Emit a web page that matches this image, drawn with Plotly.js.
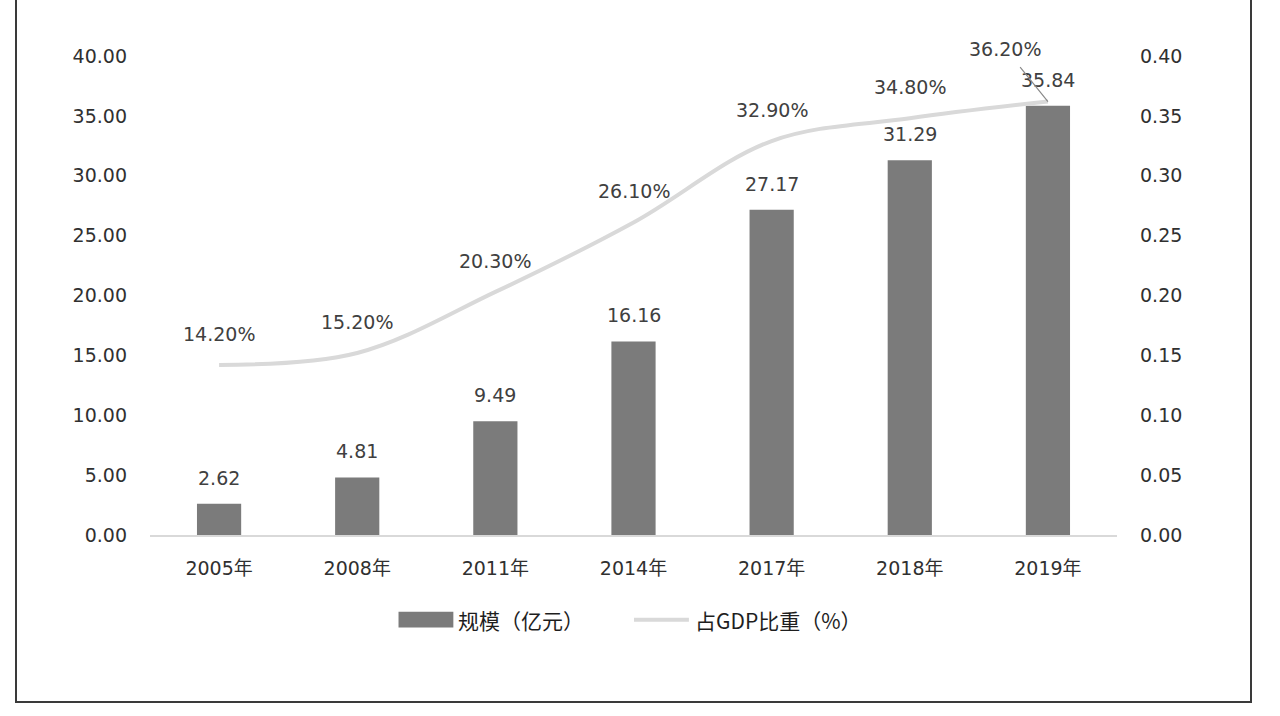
<!DOCTYPE html>
<html>
<head>
<meta charset="utf-8">
<script src="https://cdn.plot.ly/plotly-3.0.1.min.js"></script>
<style>
html,body{margin:0;padding:0;background:#fff;}
#frame{position:absolute;left:15px;top:-2px;width:1237px;height:705px;border:2px solid #3a3a3a;box-sizing:border-box;background:#fff;}
#chart{position:absolute;left:0;top:0;width:1233px;height:701px;}
</style>
</head>
<body>
<div id="frame"><div id="chart"></div></div>
<script>
const categories = ["2005年","2008年","2011年","2014年","2017年","2018年","2019年"];
const scaleValues = [2.62, 4.81, 9.49, 16.16, 27.17, 31.29, 35.84];
const gdpShare = [0.142, 0.152, 0.203, 0.261, 0.329, 0.348, 0.362];
const gdpLabels = ["14.20%","15.20%","20.30%","26.10%","32.90%","34.80%","36.20%"];
const leftTicks = [0,5,10,15,20,25,30,35,40];
const rightTicks = [0,0.05,0.10,0.15,0.20,0.25,0.30,0.35,0.40];
const seriesNames = ["规模（亿元）", "占GDP比重（%）"];

const FONT = '"DejaVu Sans", "Noto Sans CJK SC", sans-serif';
const CJK = '"Noto Sans CJK SC", "DejaVu Sans", sans-serif';
const TXT = '#404040';
const BAR = '#7b7b7b';
const LINE = '#d9d9d9';

const bars = {
  type: 'bar', name: seriesNames[0], x: categories, y: scaleValues,
  marker: {color: BAR}, yaxis: 'y', showlegend: false
};
const line = {
  type: 'scatter', mode: 'lines', name: seriesNames[1], x: categories, y: gdpShare,
  yaxis: 'y2', line: {color: LINE, width: 4, shape: 'spline', smoothing: 1}, showlegend: false
};

const annotations = [];
categories.forEach((c, i) => {
  annotations.push({x: c, y: scaleValues[i], xref: 'x', yref: 'y', text: scaleValues[i].toFixed(2),
    showarrow: false, yanchor: 'middle', yshift: 26, font: {family: FONT, size: 19, color: TXT}});
  if (i < categories.length - 1) {
    annotations.push({x: c, y: gdpShare[i], xref: 'x', yref: 'y2', text: gdpLabels[i],
      showarrow: false, yanchor: 'middle', yshift: 31, font: {family: FONT, size: 19, color: TXT}});
  } else {
    annotations.push({x: c, y: gdpShare[i], xref: 'x', yref: 'y2', text: gdpLabels[i],
      showarrow: true, arrowhead: 0, arrowwidth: 1.2, arrowcolor: '#8a8a8a', ax: -43, ay: -53,
      standoff: 0, startstandoff: 8, font: {family: FONT, size: 19, color: TXT}});
  }
});

// custom legend (wide symbols like the reference)
annotations.push({xref: 'paper', yref: 'paper', x: 0.3168, y: -0.1767, xanchor: 'left', yanchor: 'middle',
  text: seriesNames[0], showarrow: false, font: {family: CJK, size: 21, color: '#1e1e1e'}});
annotations.push({xref: 'paper', yref: 'paper', x: 0.5614, y: -0.1767, xanchor: 'left', yanchor: 'middle',
  text: seriesNames[1], showarrow: false, font: {family: CJK, size: 21, color: '#1e1e1e'}});
const shapes = [
  {type: 'rect', xref: 'paper', yref: 'paper', x0: 0.257, x1: 0.3137, y0: -0.160, y1: -0.1933,
    fillcolor: BAR, line: {width: 0}},
  {type: 'line', xref: 'paper', yref: 'paper', x0: 0.5005, x1: 0.5573, y0: -0.1767, y1: -0.1767,
    line: {color: LINE, width: 4}}
];

const layout = {
  width: 1233, height: 701,
  margin: {l: 133, r: 133, t: 56, b: 166},
  paper_bgcolor: '#fff', plot_bgcolor: '#fff',
  font: {family: FONT, size: 19, color: TXT},
  bargap: 0.68,
  showlegend: false,
  xaxis: {type: 'category', showgrid: false, showline: true, linecolor: '#d9d9d9', linewidth: 1.5,
    ticks: '', ticklabelstandoff: 16, tickfont: {family: FONT, size: 19, color: '#303030'}, zeroline: false},
  yaxis: {range: [0, 40], tickvals: leftTicks, ticktext: leftTicks.map(v => v.toFixed(2)),
    showgrid: false, zeroline: false, showline: false, ticks: '', ticklabelstandoff: 22,
    tickfont: {family: FONT, size: 19, color: '#303030'}},
  yaxis2: {range: [0, 0.40], overlaying: 'y', side: 'right', tickvals: rightTicks,
    ticktext: rightTicks.map(v => v.toFixed(2)), showgrid: false, zeroline: false, showline: false,
    ticks: '', ticklabelstandoff: 22, tickfont: {family: FONT, size: 19, color: '#303030'}},
  annotations: annotations,
  shapes: shapes
};

Plotly.newPlot('chart', [bars, line], layout, {displayModeBar: false, staticPlot: true});
</script>
</body>
</html>
